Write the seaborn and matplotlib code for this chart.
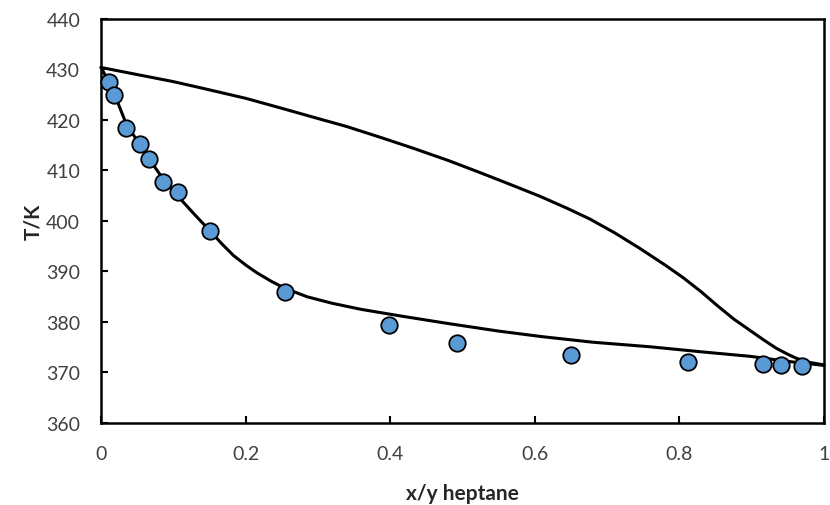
import matplotlib
matplotlib.use("Agg")
import matplotlib.pyplot as plt
import seaborn as sns
import pandas as pd

# Experimental points
exp_x = [0.011, 0.018, 0.035, 0.054, 0.066, 0.086, 0.106, 0.151, 0.254,
         0.399, 0.493, 0.650, 0.812, 0.916, 0.940, 0.970]
exp_T = [427.5, 425.0, 418.5, 415.2, 412.3, 407.8, 405.7, 398.0, 386.0,
         379.4, 375.8, 373.4, 372.0, 371.7, 371.4, 371.2]

# Bubble (liquid) curve
bub_x = [0.0, 0.01, 0.02, 0.035, 0.05, 0.065, 0.085, 0.107, 0.13, 0.151,
         0.167, 0.183, 0.2, 0.215, 0.235, 0.254, 0.285, 0.32, 0.36, 0.414,
         0.48, 0.55, 0.61, 0.68, 0.759, 0.83, 0.898, 0.95, 1.0]
bub_T = [430.4, 427.8, 424.6, 419.2, 415.9, 412.6, 408.5, 404.8, 401.2, 398.0,
         395.5, 393.2, 391.3, 389.8, 388.1, 386.7, 385.0, 383.7, 382.5, 381.2,
         379.7, 378.2, 377.1, 376.0, 375.1, 374.1, 373.2, 372.2, 371.4]

# Dew (vapour) curve
dew_x = [0.0, 0.05, 0.10, 0.137, 0.20, 0.248, 0.30, 0.34, 0.39, 0.432,
         0.48, 0.524, 0.565, 0.607, 0.645, 0.676, 0.71, 0.745, 0.78, 0.805,
         0.83, 0.852, 0.875, 0.898, 0.915, 0.934, 0.95, 0.962, 0.98, 1.0]
dew_T = [430.4, 429.0, 427.6, 426.4, 424.3, 422.4, 420.3, 418.7, 416.4, 414.4,
         412.0, 409.6, 407.3, 404.9, 402.5, 400.4, 397.7, 394.6, 391.3, 388.8,
         386.0, 383.3, 380.6, 378.3, 376.6, 374.8, 373.6, 372.8, 372.0, 371.5]

x_ticks = [0, 0.2, 0.4, 0.6, 0.8, 1]
x_tick_labels = ["0", "0.2", "0.4", "0.6", "0.8", "1"]
y_ticks = [360, 370, 380, 390, 400, 410, 420, 430, 440]

sns.set_style("ticks")
plt.rcParams['font.family'] = ['Lato', 'DejaVu Sans']

fig = plt.figure(figsize=(8.3, 5.06), dpi=100)
ax = fig.add_axes([101/830, 1 - 424/506, 723/830, 404/506])

bub = pd.DataFrame({"x": bub_x, "T": bub_T})
dew = pd.DataFrame({"x": dew_x, "T": dew_T})
exp = pd.DataFrame({"x": exp_x, "T": exp_T})

line_kw = dict(color="black", linewidth=2.2, sort=False, estimator=None,
               clip_on=False, solid_joinstyle="round", solid_capstyle="round")
sns.lineplot(data=dew, x="x", y="T", ax=ax, **line_kw)
sns.lineplot(data=bub, x="x", y="T", ax=ax, **line_kw)
sns.scatterplot(data=exp, x="x", y="T", ax=ax, color="#5B9BD5",
                edgecolor="black", linewidth=1.3, s=140, zorder=5, clip_on=False)

ax.set_xlim(0, 1)
ax.set_ylim(360, 440)
ax.set_xticks(x_ticks)
ax.set_xticklabels(x_tick_labels)
ax.set_yticks(y_ticks)

for side in ["top", "right", "bottom", "left"]:
    ax.spines[side].set_visible(True)
    ax.spines[side].set_color("black")
    ax.spines[side].set_linewidth(1.8)

ax.tick_params(axis="x", direction="in", length=5, width=1.5, pad=16,
               labelsize=14, labelcolor="#404040", color="black")
ax.tick_params(axis="y", direction="in", length=5, width=1.5, pad=15,
               labelsize=14, labelcolor="#404040", color="black")

ax.set_xlabel("x/y heptane", fontsize=15, fontweight="bold", color="#262626",
              labelpad=15)
ax.set_ylabel("T/K", fontsize=15, fontweight="bold", color="#262626",
              labelpad=2)
ax.grid(False)

fig.savefig("out.png", dpi=100)
